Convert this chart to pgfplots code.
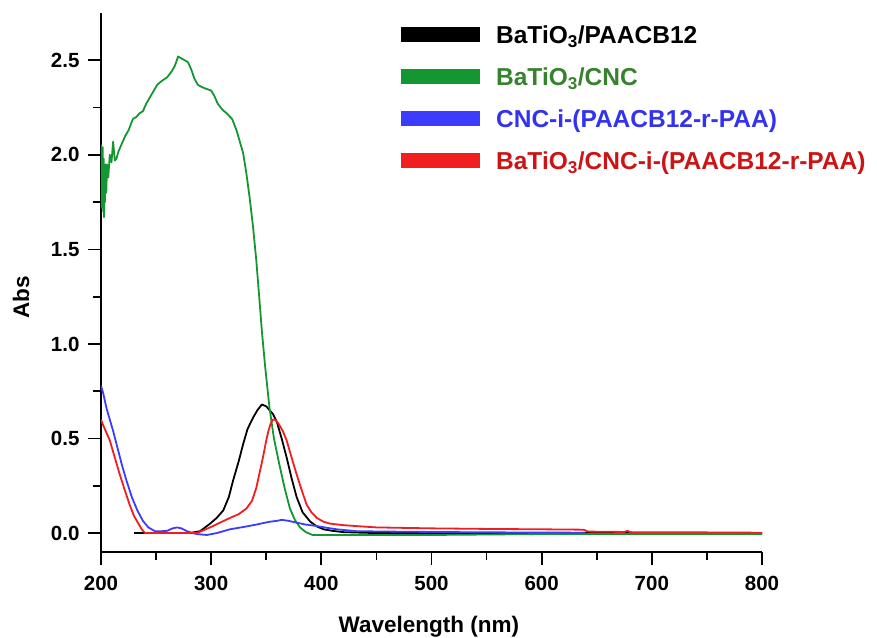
\documentclass[border=0pt]{standalone}
\usepackage{fontspec}
\setmainfont{Liberation Sans}
\usepackage{pgfplots}
\pgfplotsset{compat=1.18}
\definecolor{cblack}{RGB}{0,0,0}
\definecolor{cgreen}{RGB}{20,150,50}
\definecolor{cgreentxt}{RGB}{55,130,45}
\definecolor{cblue}{RGB}{60,60,255}
\definecolor{cbluetxt}{RGB}{50,50,240}
\definecolor{cred}{RGB}{240,30,30}
\definecolor{credtxt}{RGB}{205,20,20}
\begin{document}
\begin{tikzpicture}
\begin{axis}[
  name=ax,
  scale only axis,
  width=661pt, height=539pt,
  xmin=200, xmax=800, ymin=-0.1, ymax=2.75,
  axis x line*=bottom, axis y line*=left,
  axis line style={line width=1.8pt},
  tick align=outside,
  major tick length=13pt, minor tick length=8pt,
  tick style={line width=1.8pt, black},
  xtick={200,300,...,800}, minor x tick num=1,
  ytick={0,0.5,...,2.5}, minor y tick num=1,
  /pgf/number format/assume math mode=true,
  ticklabel style={font=\fontsize{20.5}{20.5}\selectfont\bfseries},
  xticklabel style={yshift=-8pt},
  yticklabel style={xshift=-5pt, /pgf/number format/.cd, fixed, fixed zerofill, precision=1},
  xlabel={Wavelength (nm)},
  ylabel={Abs},
  label style={font=\fontsize{22.5}{22.5}\selectfont\bfseries},
  xlabel style={at={(axis description cs:0.496,-0.139)}, anchor=center},
  ylabel style={at={(axis description cs:-0.121,0.473)}, anchor=center},
  legend image code/.code={\draw[line width=15pt] (0pt,3pt) -- (79pt,3pt);},
  legend style={draw=none, fill=none, at={(0.442,0.976)}, anchor=north west,
    inner sep=0pt, outer sep=0pt, row sep=17.8pt, column sep=9pt,
    nodes={inner sep=0pt, text height=18pt, text depth=6pt},
    font=\fontsize{24.5}{24.5}\selectfont\bfseries},
  legend cell align=left,
  every axis plot/.append style={line width=1.8pt, line join=round},
]
\addplot[cblack] coordinates {
(230,0)(240,0)(260,0)(280,0)(290,0.01)(299,0.05)(305,0.08)(311,0.12)(316,0.19)(320,0.28)(325,0.38)(329,0.47)(333,0.55)(338,0.61)(342,0.65)(346,0.68)(350,0.67)(353,0.65)(356,0.63)(359.5,0.59)(364,0.50)(368.5,0.40)(373,0.29)(377.6,0.19)(383,0.11)(390,0.06)(396,0.035)(402,0.02)(410,0.012)(420,0.005)(450,0.0)(800,0.0)
};
\addlegendentry{\textcolor{cblack}{BaTiO\textsubscript{3}/PAACB12}}
\addplot[cgreen] coordinates {
(200,1.95)(200.3,2.05)(200.6,1.72)(201,2.02)(201.3,1.78)(201.6,2.04)(202,1.70)(202.4,1.98)(202.8,1.67)(203.2,1.93)(203.6,1.75)(204.2,1.95)(204.8,1.80)(205.5,1.95)(206.6,1.88)(208,2.0)(209.5,1.96)(211,2.07)(212.5,1.97)(214,1.98)(216,2.02)(219,2.06)(222,2.10)(225,2.13)(229,2.19)(232,2.20)(235,2.22)(238,2.23)(241,2.27)(244,2.30)(247,2.33)(251,2.37)(255,2.39)(260,2.41)(264,2.44)(267,2.47)(270,2.52)(273,2.51)(276,2.50)(279,2.49)(282,2.45)(285,2.40)(288,2.37)(291,2.36)(295,2.35)(300,2.34)(303,2.31)(306,2.27)(310,2.24)(314,2.22)(319,2.19)(323,2.13)(326,2.07)(329,2.01)(332,1.90)(335,1.77)(338,1.62)(341,1.44)(344,1.22)(346,1.07)(349,0.88)(353,0.66)(357,0.50)(362,0.36)(367,0.23)(371.5,0.13)(376,0.07)(380.6,0.03)(386,0.005)(392,-0.01)(420,-0.01)(500,-0.01)(600,-0.005)(700,-0.005)(800,-0.005)
};
\addlegendentry{\textcolor{cgreentxt}{BaTiO\textsubscript{3}/CNC}}
\addplot[cblue] coordinates {
(200,0.78)(202,0.74)(205,0.66)(208,0.60)(211,0.54)(215,0.45)(219,0.36)(223,0.28)(228,0.19)(233,0.12)(238,0.065)(243,0.03)(249,0.01)(255,0.01)(260,0.012)(265,0.025)(269,0.03)(273,0.025)(278,0.01)(283,0.0)(287,-0.005)(296,-0.01)(305,0.0)(317,0.02)(330,0.033)(341,0.045)(353,0.06)(360,0.065)(364,0.07)(370,0.065)(377.6,0.055)(386,0.045)(396,0.037)(405,0.028)(414,0.02)(432,0.01)(460,0.008)(500,0.006)(550,0.004)(600,0.003)(640,0.002)
};
\addlegendentry{\textcolor{cbluetxt}{CNC-i-(PAACB12-r-PAA)}}
\addplot[cred] coordinates {
(200,0.60)(202,0.57)(205,0.53)(208,0.49)(212,0.41)(217,0.31)(222,0.22)(226,0.15)(230,0.09)(234,0.05)(237,0.02)(240,0.0)(260,0.0)(280,0.0)(287,0.0)(293,0.015)(299,0.03)(308,0.055)(317,0.08)(325,0.10)(332,0.13)(337,0.17)(341,0.24)(344,0.32)(347,0.40)(350,0.49)(352,0.54)(354,0.58)(356,0.60)(358,0.60)(361,0.58)(365,0.54)(368.5,0.49)(373,0.40)(377.6,0.31)(382,0.23)(386.7,0.15)(391,0.11)(396,0.08)(402,0.06)(408,0.05)(420,0.042)(432,0.037)(450,0.03)(500,0.025)(550,0.022)(600,0.02)(638,0.018)(642,0.008)(675,0.006)(678,0.012)(680,0.005)(740,0.004)(800,0.002)
};
\addlegendentry{\textcolor{credtxt}{BaTiO\textsubscript{3}/CNC-i-(PAACB12-r-PAA)}}
\end{axis}
\pgfresetboundingbox
\path (ax.south west) ++(-101pt,-85pt) rectangle ++(877pt,637pt);
\end{tikzpicture}
\end{document}
